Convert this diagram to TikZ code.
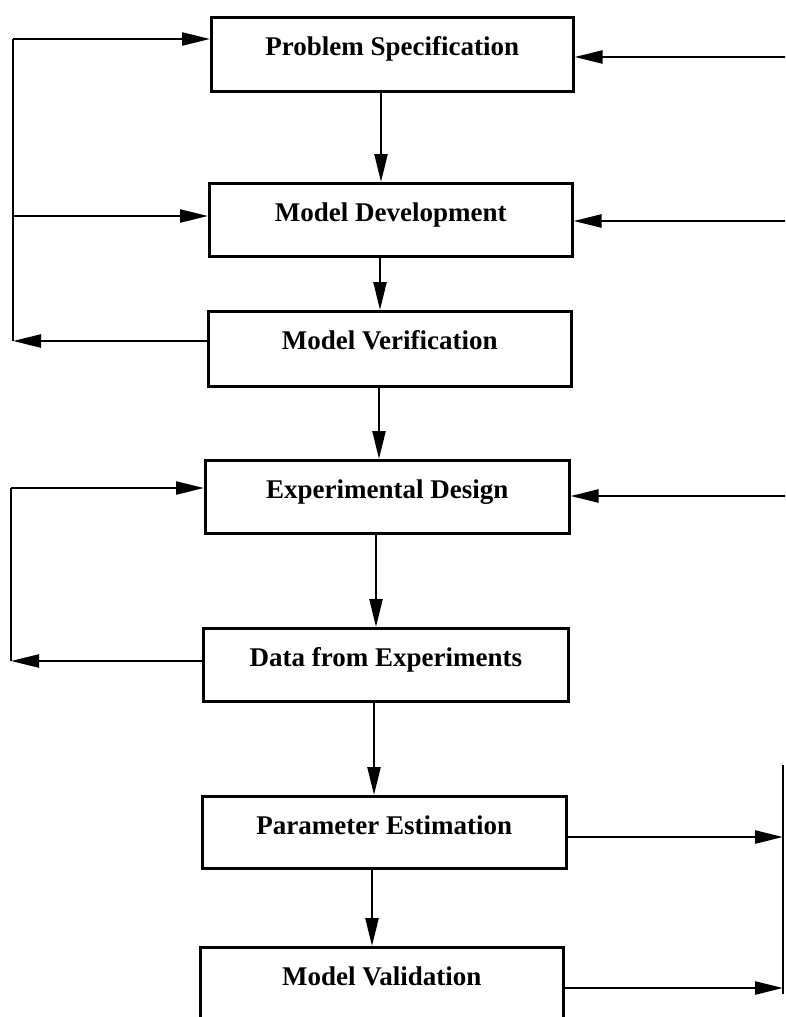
\documentclass[tikz,border=0pt]{standalone}
\usepackage{fontspec}
\setmainfont{Liberation Serif}
\usetikzlibrary{arrows.meta}

\begin{document}
\begin{tikzpicture}[x=1pt,y=-1pt,
  stagebox/.style={draw, line width=2.6pt, inner sep=0pt, anchor=north west,
    font=\fontsize{27}{30}\selectfont\bfseries, text height=38pt},
  flow/.style={line width=2.4pt, -{Triangle[length=28pt,width=13pt]}},
  plain/.style={line width=2.4pt}]

\useasboundingbox (0,0) rectangle (785,1017);
\clip (0,0) rectangle (785,1017);

% process stages
\node[stagebox, minimum width=362pt, minimum height=74pt, text depth=36pt] (b1) at (210,16)  {Problem Specification};
\node[stagebox, minimum width=363pt, minimum height=73pt, text depth=35pt] (b2) at (208,182) {Model Development};
\node[stagebox, minimum width=363pt, minimum height=75pt, text depth=37pt] (b3) at (207,310) {Model Verification};
\node[stagebox, minimum width=364pt, minimum height=73pt, text depth=35pt] (b4) at (204,459) {Experimental Design};
\node[stagebox, minimum width=365pt, minimum height=73pt, text depth=35pt] (b5) at (202,627) {Data from Experiments};
\node[stagebox, minimum width=364pt, minimum height=72pt, text depth=34pt] (b6) at (201,795) {Parameter Estimation};
\node[stagebox, minimum width=363pt, minimum height=94pt, text depth=56pt] (b7) at (199,946) {Model Validation};

% main downward flow
\coordinate (d1) at (381,0);
\coordinate (d2) at (380,0);
\coordinate (d3) at (379,0);
\coordinate (d4) at (376,0);
\coordinate (d5) at (374,0);
\coordinate (d6) at (372,0);
\draw[flow] (b1.south -| d1) -- (b2.north -| d1);
\draw[flow] (b2.south -| d2) -- (b3.north -| d2);
\draw[flow] (b3.south -| d3) -- (b4.north -| d3);
\draw[flow] (b4.south -| d4) -- (b5.north -| d4);
\draw[flow] (b5.south -| d5) -- (b6.north -| d5);
\draw[flow] (b6.south -| d6) -- (b7.north -| d6);

% left feedback loop: verification back to specification and development
\coordinate (la) at (13,39);
\coordinate (lb) at (13,216);
\coordinate (lc) at (13,341);
\draw[flow] (b3.west |- lc) -- (lc);
\draw[plain] (lc) -- (la);
\draw[flow] (la) -- (b1.west |- la);
\draw[flow] (lb) -- (b2.west |- lb);

% left feedback loop: experiments back to design
\coordinate (ma) at (11,488);
\coordinate (mb) at (11,661);
\draw[flow] (b5.west |- mb) -- (mb);
\draw[plain] (mb) -- (ma);
\draw[flow] (ma) -- (b4.west |- ma);

% inputs from the right
\coordinate (r1) at (786,57);
\coordinate (r2) at (786,221);
\coordinate (r4) at (786,496);
\draw[flow] (r1) -- (b1.east |- r1);
\draw[flow] (r2) -- (b2.east |- r2);
\draw[flow] (r4) -- (b4.east |- r4);

% outputs to the right collector line
\coordinate (ctop) at (783,765);
\coordinate (cbot) at (783,994);
\coordinate (c6) at (783,837);
\coordinate (c7) at (783,988);
\draw[plain] (ctop) -- (cbot);
\draw[flow] (b6.east |- c6) -- (c6);
\draw[flow] (b7.east |- c7) -- (c7);

\end{tikzpicture}
\end{document}
